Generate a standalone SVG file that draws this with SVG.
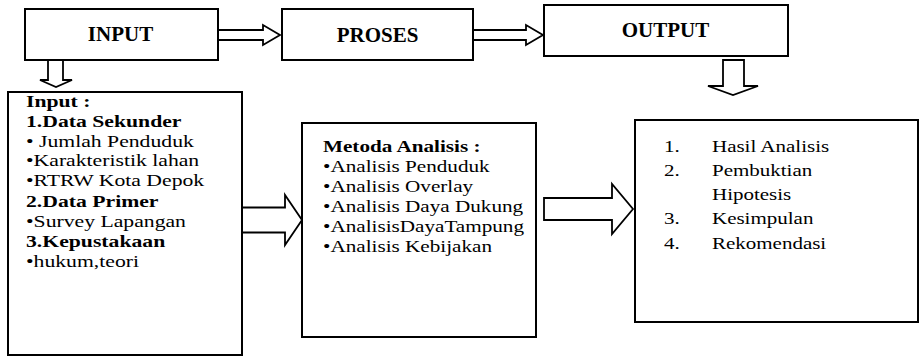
<svg xmlns="http://www.w3.org/2000/svg" width="923" height="356" viewBox="0 0 923 356" font-family="'Liberation Serif', 'Times New Roman', serif">
<style>
.box{fill:#fff;stroke:#000;stroke-width:2}
.arr{fill:#fff;stroke:#000;stroke-width:1.8;stroke-linejoin:miter}
text{font-family:"Liberation Serif","Times New Roman",serif;font-size:17.5px;fill:#000}
.b{font-weight:bold}
.t{font-weight:bold;text-anchor:middle;font-size:21px}
</style>
<rect width="923" height="356" fill="#fff"/>
<g id="connectors">
<polygon class="arr" points="218,30 263,30 263,25 280,35 263,45 263,40 218,40"/>
<polygon class="arr" points="473,30 526,30 526,25 543,35 526,45 526,40 473,40"/>
<polygon class="arr" points="48,60 63,60 63,80 72,80 56,87 40,80 48,80"/>
<polygon class="arr" points="723,60 744,60 744,86 758,86 733,95 708,86 723,86"/>
<polygon class="arr" points="242,207.5 285,207.5 285,195 302,220 285,245 285,232.5 242,232.5"/>
<polygon class="arr" points="544,198 612,198 612,184 633,209 612,234 612,220 544,220"/>
</g>
<g id="input-title">
<rect class="box" x="25" y="9" width="193" height="51"/>
<text class="t" x="120.5" y="41">INPUT</text>
</g>
<g id="proses-title">
<rect class="box" x="282" y="9" width="191" height="51"/>
<text class="t" x="377.5" y="42">PROSES</text>
</g>
<g id="output-title">
<rect class="box" x="544" y="5" width="244" height="51"/>
<text class="t" x="665.5" y="37">OUTPUT</text>
</g>
<g id="input-box">
<rect class="box" x="8" y="92" width="234" height="263"/>
<g transform="matrix(1.24,0,0,1,-6.24,0)">
<text class="b" x="26" y="107">Input :</text>
<text class="b" x="26" y="127">1.Data Sekunder</text>
<text x="26" y="147">• Jumlah Penduduk</text>
<text x="26" y="166.5">•Karakteristik lahan</text>
<text x="26" y="186.5">•RTRW Kota Depok</text>
<text class="b" x="26" y="207">2.Data Primer</text>
<text x="26" y="227">•Survey Lapangan</text>
<text class="b" x="26" y="247">3.Kepustakaan</text>
<text x="26" y="267">•hukum,teori</text>
</g>
</g>
<g id="metoda-box">
<rect class="box" x="302" y="123" width="234" height="214"/>
<g transform="matrix(1.21,0,0,1,-67.83,0)">
<text class="b" x="323" y="152">Metoda Analisis :</text>
<text x="323" y="172">•Analisis Penduduk</text>
<text x="323" y="192">•Analisis Overlay</text>
<text x="323" y="212">•Analisis Daya Dukung</text>
<text x="323" y="232">•AnalisisDayaTampung</text>
<text x="323" y="252">•Analisis Kebijakan</text>
</g>
</g>
<g id="output-box">
<rect class="box" x="635" y="120" width="283" height="202"/>
<g transform="matrix(1.2,0,0,1,-132.8,0)">
<text x="664" y="152">1.</text>
<text x="664" y="176">2.</text>
<text x="664" y="224">3.</text>
<text x="664" y="249">4.</text>
</g>
<g transform="matrix(1.2,0,0,1,-142.4,0)">
<text x="712" y="152">Hasil Analisis</text>
<text x="712" y="176">Pembuktian</text>
<text x="712" y="200">Hipotesis</text>
<text x="712" y="224">Kesimpulan</text>
<text x="712" y="249">Rekomendasi</text>
</g>
</g>
</svg>
